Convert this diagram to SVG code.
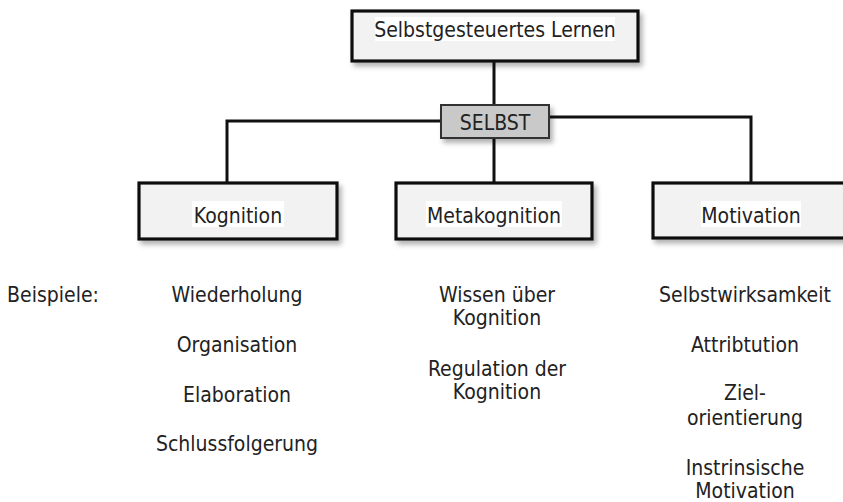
<svg xmlns="http://www.w3.org/2000/svg" width="843" height="502" viewBox="0 0 843 502">
<defs>
<filter id="sh" x="-10%" y="-20%" width="130%" height="160%">
<feDropShadow dx="3" dy="4" stdDeviation="2.5" flood-color="#000" flood-opacity="0.3"/>
</filter>
</defs>
<style>
text{font-family:"DejaVu Sans Condensed","DejaVu Sans",sans-serif;font-stretch:condensed;font-size:21px;fill:#222;text-anchor:middle}
.box{fill:#f2f2f2;stroke:#111;stroke-width:3.2}
.sel{fill:#c9c9c9;stroke:#333;stroke-width:2}
.hl{fill:#fff}
.con{fill:none;stroke:#111;stroke-width:3}
</style>
<rect width="843" height="502" fill="#fff"/>
<g id="connectors">
<path class="con" d="M494,61 V105"/>
<path class="con" d="M441,121 H227 V183"/>
<path class="con" d="M549,117 H751 V183"/>
<path class="con" d="M494,138 V183"/>
</g>
<g id="top">
<rect class="box" x="352" y="11" width="286" height="50" filter="url(#sh)"/>
<rect class="hl" x="375" y="17" width="240" height="24"/>
<text x="495" y="37">Selbstgesteuertes Lernen</text>
</g>
<g id="selbst">
<rect class="sel" x="441" y="105" width="108" height="33" filter="url(#sh)"/>
<text x="495" y="130">SELBST</text>
</g>
<g id="kognition">
<rect class="box" x="139" y="183" width="198" height="56" filter="url(#sh)"/>
<rect class="hl" x="192" y="201" width="92" height="26"/>
<text x="238" y="223">Kognition</text>
</g>
<g id="metakognition">
<rect class="box" x="396" y="183" width="196" height="56" filter="url(#sh)"/>
<rect class="hl" x="426" y="201" width="136" height="26"/>
<text x="494" y="223">Metakognition</text>
</g>
<g id="motivation">
<rect class="box" x="653" y="183" width="200" height="55" filter="url(#sh)"/>
<rect class="hl" x="701" y="201" width="100" height="26"/>
<text x="751" y="223">Motivation</text>
</g>
<g id="beispiele">
<text x="53" y="302">Beispiele:</text>
</g>
<g id="ex-kognition">
<text x="237" y="302">Wiederholung</text>
<text x="237" y="352">Organisation</text>
<text x="237" y="402">Elaboration</text>
<text x="237" y="451">Schlussfolgerung</text>
</g>
<g id="ex-metakognition">
<text x="497" y="302">Wissen über</text>
<text x="497" y="325">Kognition</text>
<text x="497" y="376">Regulation der</text>
<text x="497" y="399">Kognition</text>
</g>
<g id="ex-motivation">
<text x="745" y="302">Selbstwirksamkeit</text>
<text x="745" y="352">Attribtution</text>
<text x="745" y="400">Ziel-</text>
<text x="745" y="425">orientierung</text>
<text x="745" y="475">Instrinsische</text>
<text x="745" y="498">Motivation</text>
</g>
</svg>
